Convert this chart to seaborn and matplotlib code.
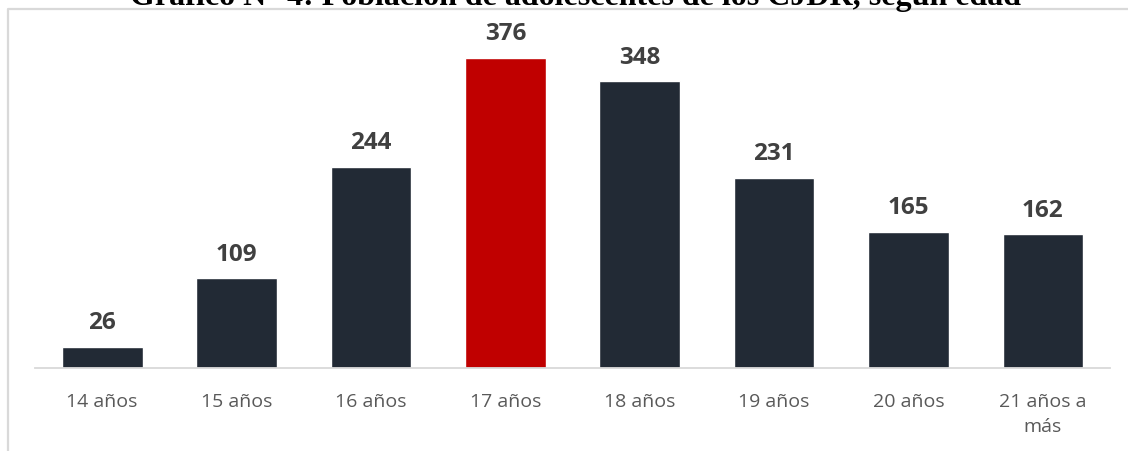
import matplotlib.pyplot as plt
from matplotlib.lines import Line2D
import seaborn as sns
import pandas as pd

# ── data ────────────────────────────────────────────────────
edades = ["14 años", "15 años", "16 años", "17 años", "18 años",
          "19 años", "20 años", "21 años a\nmás"]
adolescentes = [26, 109, 244, 376, 348, 231, 165, 162]
destacado = "17 años"

titulo = "Gráfico N° 4: Población de adolescentes de los CJDR, según edad"

df = pd.DataFrame({"edad": edades, "n": adolescentes})
colores = {e: ("#c00000" if e == destacado else "#222a35") for e in edades}

sns.set_style("white")
plt.rcParams["font.family"] = ["Open Sans", "DejaVu Sans"]

W, H = 1128, 452
fig = plt.figure(figsize=(W / 100, H / 100), dpi=100)
ax = fig.add_axes([35 / W, (H - 369) / H, 1075 / W, 359 / H])

sns.barplot(data=df, x="edad", y="n", hue="edad", palette=colores,
            width=0.6, legend=False, ax=ax, saturation=1)

ax.set_xlim(-0.5, len(edades) - 0.5)
ax.set_ylim(0, 435.4)
ax.set_xlabel("")
ax.set_ylabel("")
ax.set_yticks([])
for s in ["top", "right", "left"]:
    ax.spines[s].set_visible(False)
ax.spines["bottom"].set_color("#d9d9d9")
ax.spines["bottom"].set_linewidth(1.3)
ax.tick_params(axis="x", length=0, pad=17, labelsize=14, labelcolor="#595959")
for lbl in ax.get_xticklabels():
    lbl.set_linespacing(1.55)

for i, v in enumerate(adolescentes):
    ax.annotate(str(v), (i, v), xytext=(0, 9), textcoords="offset points",
                ha="center", va="bottom", fontsize=17.5, fontweight="bold",
                color="#404040")

# marco gris del gráfico
fig.add_artist(Line2D([8 / W, 8 / W, 1.0], [0.0, 1 - 10 / H, 1 - 10 / H],
                      transform=fig.transFigure, color="#d9d9d9", lw=1.6))

# título recortado en el borde superior
fig.text(575 / W, 1 - 5 / H, titulo, ha="center", va="baseline",
         fontsize=23, fontweight="bold", family="Liberation Serif", color="black")

fig.savefig("out.png", dpi=100)
